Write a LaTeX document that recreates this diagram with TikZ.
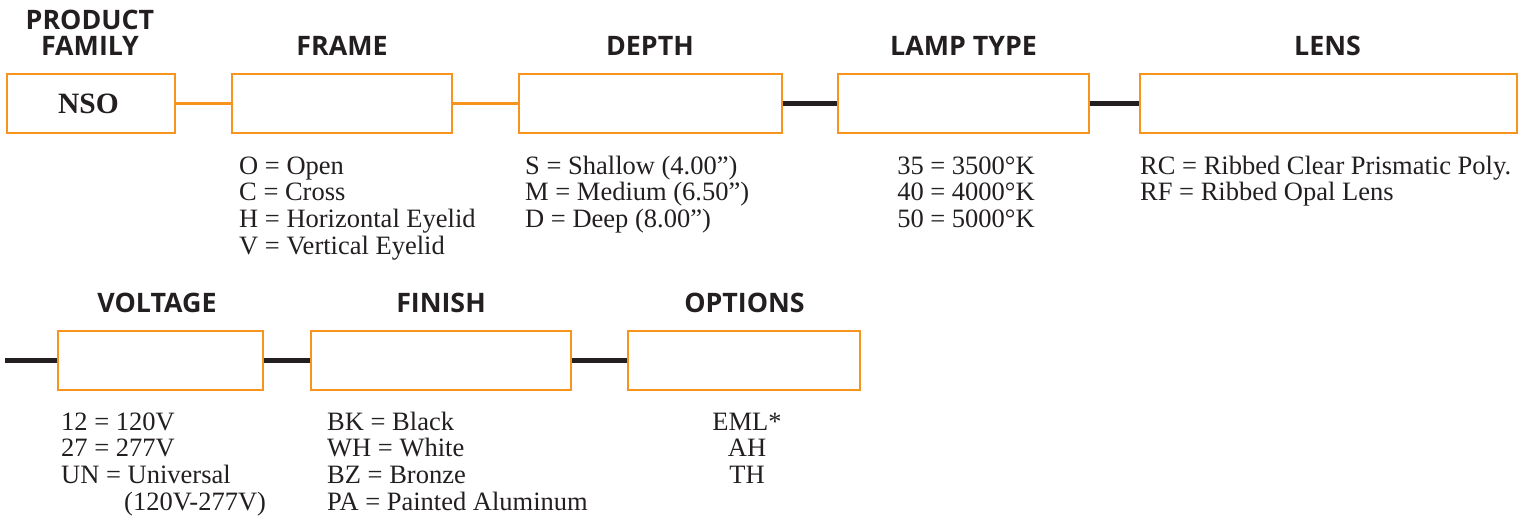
\documentclass[tikz,border=0pt]{standalone}
\usepackage{fontspec}
\setmainfont{Liberation Serif}
\newfontfamily\hdrfont{Open Sans}
\definecolor{boxorange}{HTML}{F7941D}
\definecolor{inkdark}{HTML}{231F20}
\tikzset{
  optbox/.style={draw=boxorange, line width=2.8pt, fill=white, minimum height=59pt, inner sep=0pt},
  thinlink/.style={draw=boxorange, line width=2.3pt},
  thicklink/.style={draw=inkdark, line width=4.6pt},
  hdr/.style={font=\hdrfont\bfseries\fontsize{26.8}{27}\selectfont, text=inkdark, anchor=base, inner sep=0pt},
  codes/.style={font=\fontsize{26.5}{26.7}\selectfont, text=inkdark, inner sep=0pt},
}
\newcommand{\codelist}[2]{\begin{tabular}[t]{@{}#1@{}}#2\end{tabular}}
\begin{document}
\begin{tikzpicture}[x=1pt,y=-1pt]
\useasboundingbox (0,0) rectangle (1527,515);
% headers row 1
\node[hdr] (hpf1) at (90,29) {PRODUCT};
\node[hdr] (hpf2) at (90,55) {FAMILY};
\node[hdr] (hframe) at (342,55) {FRAME};
\node[hdr] (hdepth) at (650,55) {DEPTH};
\node[hdr] (hlamp) at (963.5,55) {LAMP TYPE};
\node[hdr] (hlens) at (1327.5,55) {LENS};
% headers row 2
\node[hdr] (hvolt) at (157,312) {VOLTAGE};
\node[hdr] (hfin) at (441,312) {FINISH};
\node[hdr] (hopt) at (744.5,312) {OPTIONS};
% boxes row 1
\node[optbox, minimum width=168pt] (nso) at (91,103.5) {};
\node[optbox, minimum width=220pt] (frame) at (342,103.5) {};
\node[optbox, minimum width=263pt] (depth) at (650.5,103.5) {};
\node[optbox, minimum width=251pt] (lamp) at (963.5,103.5) {};
\node[optbox, minimum width=377pt] (lens) at (1328.5,103.5) {};
\node[font=\bfseries\fontsize{29.5}{30}\selectfont, text=inkdark, anchor=base, inner sep=0pt] (nsotext) at (88.5,113) {NSO};
% boxes row 2
\node[optbox, minimum width=205pt] (volt) at (160.5,360.5) {};
\node[optbox, minimum width=260pt] (fin) at (441,360.5) {};
\node[optbox, minimum width=232pt] (opt) at (744,360.5) {};
\coordinate (lstart) at (5,360.5);
% connectors
\draw[thinlink] (nso.east) -- (frame.west);
\draw[thinlink] (frame.east) -- (depth.west);
\draw[thicklink] (depth.east) -- (lamp.west);
\draw[thicklink] (lamp.east) -- (lens.west);
\draw[thicklink] (lstart) -- (volt.west);
\draw[thicklink] (volt.east) -- (fin.west);
\draw[thicklink] (fin.east) -- (opt.west);
% code lists row 1
\node[codes, anchor=base west] (cframe) at (239,174) {\codelist{l}{O = Open\\ C = Cross\\ H = Horizontal Eyelid\\ V = Vertical Eyelid}};
\node[codes, anchor=base west] (cdepth) at (525,174) {\codelist{l}{S = Shallow (4.00”)\\ M = Medium (6.50”)\\ D = Deep (8.00”)}};
\node[codes, anchor=base] (clamp) at (966,174) {\codelist{c}{35 = 3500°K\\ 40 = 4000°K\\ 50 = 5000°K}};
\node[codes, anchor=base west] (clens) at (1140,174) {\codelist{l}{RC = Ribbed Clear Prismatic Poly.\\ RF = Ribbed Opal Lens}};
% code lists row 2
\node[codes, anchor=base west] (cvolt) at (61,430) {\codelist{l}{12 = 120V\\ 27 = 277V\\ UN = Universal\\ \hspace*{63pt}(120V-277V)}};
\node[codes, anchor=base west] (cfin) at (327,430) {\codelist{l}{BK = Black\\ WH = White\\ BZ = Bronze\\ PA = Painted Aluminum}};
\node[codes, anchor=base] (copt) at (747,430) {\codelist{c}{EML*\\ AH\\ TH}};
\end{tikzpicture}
\end{document}
